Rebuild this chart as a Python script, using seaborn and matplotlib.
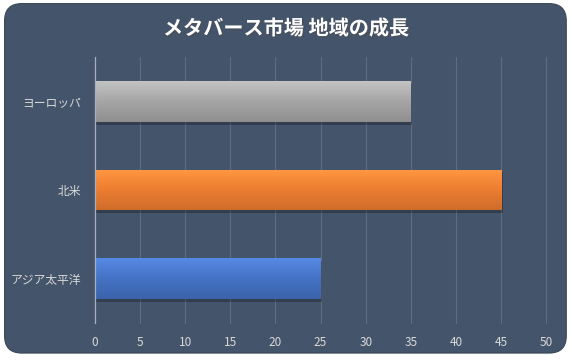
import numpy as np
import pandas as pd
import matplotlib
matplotlib.use("Agg")
import matplotlib.pyplot as plt
import seaborn as sns
from matplotlib.patches import FancyBboxPatch
from matplotlib.colors import LinearSegmentedColormap, to_rgb
import matplotlib.patheffects as pe

# Datos
regiones = ["ヨーロッパ", "北米", "アジア太平洋"]
valores = [35, 45, 25]
colores = ["#a5a5a5", "#ed7d31", "#4472c4"]
titulo = "メタバース市場 地域の成長"
xticks = list(range(0, 55, 5))

df = pd.DataFrame({"region": regiones, "valor": valores})

sns.set_theme(style="white")
plt.rcParams["font.family"] = ["Noto Sans CJK JP", "DejaVu Sans"]

fondo = "#44546a"
texto = "#d9d9d9"

fig = plt.figure(figsize=(5.72, 3.61), dpi=100)
fig.patch.set_facecolor("white")
caja = FancyBboxPatch((0.008, 0.022), 0.982, 0.968, boxstyle="round,pad=0,rounding_size=0.03",
                      transform=fig.transFigure, facecolor=fondo, edgecolor="#3a4759", lw=0.8,
                      mutation_aspect=572 / 361, zorder=-5)
fig.patches.append(caja)

ax = fig.add_axes([0.166, 0.105, 0.789, 0.737])
ax.set_facecolor("none")

sns.barplot(data=df, x="valor", y="region", hue="region", palette=colores,
            legend=False, width=0.46, ax=ax, edgecolor="none", saturation=1)

# Degradado y sombra en cada barra
for patch, c in zip(ax.patches, colores):
    x0, y0 = patch.get_x(), patch.get_y()
    w, h = patch.get_width(), patch.get_height()
    r, g, b = to_rgb(c)
    claro = (min(1, r * 1.12 + 0.04), min(1, g * 1.12 + 0.04), min(1, b * 1.12 + 0.04))
    oscuro = (r * 0.87, g * 0.87, b * 0.87)
    cmap = LinearSegmentedColormap.from_list("g", [claro, c, oscuro])
    grad = np.linspace(0, 1, 64).reshape(-1, 1)
    im = ax.imshow(grad, cmap=cmap, aspect="auto", extent=(x0, x0 + w, y0 + h, y0),
                   origin="upper", zorder=patch.get_zorder() + 0.1)
    im.set_clip_path(patch)
    patch.set_path_effects([pe.SimplePatchShadow(offset=(1, -2), shadow_rgbFace="black", alpha=0.25),
                            pe.Normal()])

ax.set_xlim(0, 50)
ax.set_xticks(xticks)
ax.set_ylim(2.5, -0.5)
ax.grid(axis="x", color="#5f6d80", lw=0.8)
ax.set_axisbelow(True)
for s in ["top", "right", "bottom"]:
    ax.spines[s].set_visible(False)
ax.spines["left"].set_color("#a7b0bc")
ax.spines["left"].set_linewidth(0.9)
ax.set_xlabel("")
ax.set_ylabel("")
ax.tick_params(axis="both", length=0, colors=texto, labelsize=8.5, pad=9)
ax.tick_params(axis="y", pad=10)
for gl in ax.get_xgridlines():
    gl.set_clip_on(False)

fig.text(0.5, 0.922, titulo, ha="center", va="center", color="white", fontsize=14.5,
         fontweight="bold", path_effects=[pe.withSimplePatchShadow(offset=(1, -1), alpha=0.5)])

fig.savefig("out.png", dpi=100, facecolor="white")
